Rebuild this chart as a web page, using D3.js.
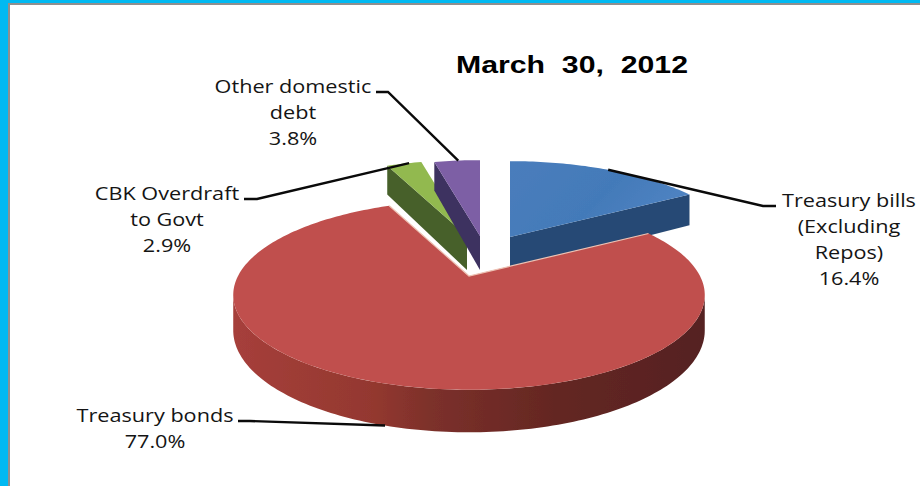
<!DOCTYPE html>
<html>
<head>
<meta charset="utf-8">
<script src="https://cdn.jsdelivr.net/npm/d3@7"></script>
<style>
html,body{margin:0;padding:0;background:#fff;overflow:hidden}
svg{display:block}
text{font-family:"Open Sans",sans-serif;fill:#141414}
</style>
</head>
<body>
<svg id="chart" width="920" height="486"></svg>
<script>
// Government domestic debt composition, March 30, 2012
const categories = ["Treasury bills", "Treasury bonds", "CBK Overdraft", "Other domestic debt"];
const shares = [16.4, 77.0, 2.9, 3.8];
const title = "March\u00a0 30,\u00a0 2012";
const labelLines = [
  ["Treasury bills", "(Excluding", "Repos)", "16.4%"],
  ["Treasury bonds", "77.0%"],
  ["CBK Overdraft", "to Govt", "2.9%"],
  ["Other domestic", "debt", "3.8%"]
];
const topColours = ["#4679b8", "#c0504d", "#92b94f", "#7d5fa5"];
const wallColours = ["#284a74", "#7a2f2b", "#46602a", "#3c3060"];

const svg = d3.select("#chart");
const W = 920, H = 486;

// Frame: blue band with a thin grey rule inside it
svg.append("rect").attr("width", W).attr("height", H).attr("fill", "#00b9f2");
svg.append("rect").attr("x", 8).attr("y", 3).attr("width", W - 8).attr("height", H - 3).attr("fill", "#8f8f8f");
svg.append("rect").attr("x", 10).attr("y", 5).attr("width", W - 10).attr("height", H - 5).attr("fill", "#fff");

// Perspective view of a flat disk seen from above and in front
const R = 231, squash = 91, tilt = 0.2, thickness = 34;
const apex = [[510, 237], [469, 276], [467, 236], [480, 236]];

const arcs = d3.pie().sort(null).value(d => d)(shares);

function project(i, angle, r, drop) {
  const u = r * Math.sin(angle), v = r * Math.cos(angle), f = 1 + tilt * v;
  return [apex[i][0] + R * u / f, apex[i][1] - squash * v / f + (drop ? thickness / f : 0)];
}
const line = d3.line();
function rim(i, a0, a1, drop) {
  const n = Math.max(2, Math.ceil(Math.abs(a1 - a0) / 0.02));
  return d3.range(n + 1).map(k => project(i, a0 + (a1 - a0) * k / n, 1, drop));
}
const centre = (i, drop) => project(i, 0, 0, drop);

const defs = svg.append("defs");
const redWall = defs.append("linearGradient").attr("id", "redWall")
  .attr("gradientUnits", "userSpaceOnUse").attr("x1", 233).attr("x2", 705).attr("y1", 0).attr("y2", 0);
[[0, "#a63f3b"], [0.3, "#93382f"], [0.42, "#7c302b"], [0.68, "#642722"], [1, "#552120"]]
  .forEach(s => redWall.append("stop").attr("offset", s[0]).attr("stop-color", s[1]));

const blueTop = defs.append("linearGradient").attr("id", "blueTop")
  .attr("x1", 0).attr("x2", 1).attr("y1", 0).attr("y2", 0.4);
[[0, "#4a7dbc"], [0.6, "#437ab9"], [1, "#4f83c2"]]
  .forEach(s => blueTop.append("stop").attr("offset", s[0]).attr("stop-color", s[1]));

const soft = defs.append("filter").attr("id", "soft")
  .attr("x", "-5%").attr("y", "-5%").attr("width", "110%").attr("height", "110%");
soft.append("feGaussianBlur").attr("stdDeviation", 0.6);

const pie = svg.append("g").attr("filter", "url(#soft)");

// Back slices first: green, purple and blue cut faces with their tops
function sideFace(i, angle) {
  const rimTop = project(i, angle, 1, false), rimLow = project(i, angle, 1, true);
  pie.append("path").attr("fill", wallColours[i])
    .attr("d", line([centre(i, false), rimTop, rimLow, centre(i, true)]) + "Z");
}
function topFace(i, fill) {
  const a = arcs[i];
  pie.append("path").attr("fill", fill)
    .attr("d", line([centre(i, false), ...rim(i, a.startAngle, a.endAngle, false)]) + "Z");
}
sideFace(2, arcs[2].startAngle);
topFace(2, topColours[2]);
sideFace(3, arcs[3].startAngle);
topFace(3, topColours[3]);
sideFace(0, arcs[0].endAngle);
topFace(0, "url(#blueTop)");

// Large red slice: curved outer wall, then the top with a pale cut edge
const a1 = arcs[1];
const wallStart = Math.max(a1.startAngle, Math.PI / 2 + 0.2);
const wallEnd = Math.min(a1.endAngle, Math.PI * 1.5 - 0.2);
pie.append("path").attr("fill", "url(#redWall)")
  .attr("d", line([...rim(1, wallStart, wallEnd, false), ...rim(1, wallEnd, wallStart, true)]) + "Z");
pie.append("path").attr("fill", topColours[1])
  .attr("d", line([centre(1, false), ...rim(1, a1.startAngle, a1.endAngle, false)]) + "Z");
pie.append("path").attr("fill", "none").attr("stroke", "#eec3b5").attr("stroke-width", 1.2)
  .attr("d", line([project(1, a1.startAngle, 1, false), centre(1, false), project(1, a1.endAngle, 1, false)]));

// Leader lines from each slice out to its label
const leaders = [
  [project(0, 0.522, 1, false), [763, 206], [776, 206]],
  [project(1, 3.44, 1, true), [250, 421], [238, 421]],
  [project(2, 5.98, 1, false), [257, 199], [244, 199]],
  [project(3, 6.17, 1, false), [388, 92], [376, 92]]
];
svg.append("g").selectAll("path").data(leaders).join("path")
  .attr("fill", "none").attr("stroke", "#0a0a0a").attr("stroke-width", 2.4)
  .attr("d", d => line(d));

// Labels, slightly widened
const labelAnchor = [[849, 207], [155, 422], [167, 200], [293, 93]];
const fontSize = 19, lineGap = 26, widen = 1.14;
const labels = svg.append("g").selectAll("text").data(labelLines).join("text")
  .attr("text-anchor", "middle").attr("font-size", fontSize)
  .attr("transform", (d, i) => `translate(${labelAnchor[i][0]},${labelAnchor[i][1]}) scale(${widen},1)`);
labels.selectAll("tspan").data(d => d).join("tspan")
  .attr("x", 0).attr("y", (d, k) => k * lineGap).text(d => d);

svg.append("text").attr("x", 456).attr("y", 73)
  .attr("textLength", 232).attr("lengthAdjust", "spacingAndGlyphs")
  .style("font-family", '"Liberation Sans",Arial,sans-serif').style("font-weight", "bold")
  .style("fill", "#000").attr("font-size", 23).text(title);
</script>
</body>
</html>
